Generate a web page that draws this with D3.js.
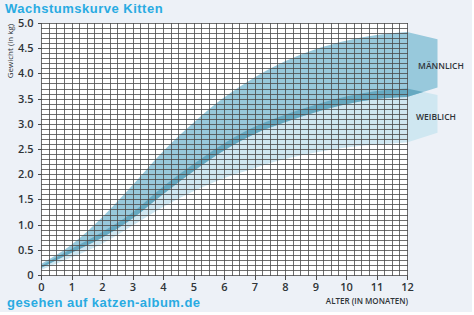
<!DOCTYPE html>
<html><head><meta charset="utf-8">
<script src="https://cdn.jsdelivr.net/npm/d3@7"></script>
<style>
html,body{margin:0;padding:0;background:#ffffff;}
svg{display:block;}
</style></head>
<body>
<script>
// ---- data ----
const months = [0,1,2,3,4,5,6,7,8,9,10,11,12];
const maleHigh   = [0.22,0.60,1.14,1.78,2.45,3.02,3.52,3.92,4.24,4.48,4.65,4.76,4.82];
const maleLow    = [0.14,0.44,0.74,1.12,1.60,2.06,2.47,2.80,3.03,3.23,3.39,3.49,3.53];
const femaleHigh = [0.18,0.52,0.85,1.24,1.75,2.20,2.61,2.94,3.18,3.38,3.54,3.65,3.70];
const femaleLow  = [0.10,0.35,0.62,0.98,1.35,1.66,1.92,2.12,2.30,2.43,2.53,2.59,2.63];
const legendMonths = [12,13];
const maleLegendHigh = [4.82,4.68];
const maleLegendLow = [3.53,3.72];
const femaleLegendHigh = [3.70,3.57];
const femaleLegendLow = [2.63,2.82];
const xTicks = [0,1,2,3,4,5,6,7,8,9,10,11,12];
const yTicks = [0,0.5,1,1.5,2,2.5,3,3.5,4,4.5,5];
const yTickLabels = ["0","0.5","1.0","1.5","2.0","2.5","3.0","3.5","4.0","4.5","5.0"];
const title = "Wachstumskurve Kitten";
const source = "gesehen auf katzen-album.de";
const xTitle = "ALTER (IN MONATEN)";
const yTitle = "Gewicht (in kg)";
const maleLabel = "MÄNNLICH";
const femaleLabel = "WEIBLICH";

// ---- layout ----
const W = 474, H = 315;
const svg = d3.select("body").append("svg").attr("width", W).attr("height", H);
svg.append("rect").attr("x",0).attr("y",0).attr("width",472).attr("height",312).attr("fill","#edf1f7");

const x = d3.scaleLinear().domain([0,12]).range([41,407]);
const y = d3.scaleLinear().domain([0,5]).range([275,23]);

svg.append("rect").attr("x",x(0)).attr("y",y(5)).attr("width",x(12)-x(0)).attr("height",y(0)-y(5)).attr("fill","#ffffff");

const maleCol = "#98c9dc", femaleCol = "#cfe7f1", bothCol = "#66a9c1";
const defs = svg.append("defs");
const bands = svg.append("g");

function areaGen(curve){
  return d3.area().x(d=>x(d.m)).y0(d=>y(d.lo)).y1(d=>y(d.hi)).curve(curve);
}
function pts(xs, lo, hi){ return xs.map((m,i)=>({m, lo:lo[i], hi:hi[i]})); }

function pair(xs, fLo, fHi, mLo, mHi, curve, id){
  const fPts = pts(xs, fLo, fHi), mPts = pts(xs, mLo, mHi);
  bands.append("path").datum(fPts).attr("d", areaGen(curve)).attr("fill", femaleCol);
  bands.append("path").datum(mPts).attr("d", areaGen(curve)).attr("fill", maleCol);
  defs.append("clipPath").attr("id", id).append("path").datum(fPts).attr("d", areaGen(curve));
  bands.append("path").datum(mPts).attr("d", areaGen(curve)).attr("fill", bothCol)
    .attr("clip-path", `url(#${id})`);
}
pair(months, femaleLow, femaleHigh, maleLow, maleHigh, d3.curveMonotoneX, "clipMain");
pair(legendMonths, femaleLegendLow, femaleLegendHigh, maleLegendLow, maleLegendHigh, d3.curveLinear, "clipLegend");

// grid
const grid = svg.append("g").attr("stroke","#4a4a4a").attr("stroke-opacity",0.8).attr("stroke-width",1)
  .attr("shape-rendering","crispEdges");
const vLines = d3.range(0, 48.5, 1).map(i=>i/4);
const hLines = d3.range(0, 50.5, 1).map(i=>i/10);
grid.selectAll("line.v").data(vLines).join("line").attr("class","v")
  .attr("x1",d=>Math.round(x(d))+0.5).attr("x2",d=>Math.round(x(d))+0.5)
  .attr("y1",Math.round(y(5))).attr("y2",Math.round(y(0))+1);
grid.selectAll("line.h").data(hLines).join("line").attr("class","h")
  .attr("y1",d=>Math.round(y(d))+0.5).attr("y2",d=>Math.round(y(d))+0.5)
  .attr("x1",Math.round(x(0))).attr("x2",Math.round(x(12))+1);

// axes
const font = "'Open Sans', 'Liberation Sans', sans-serif";
const xAxis = svg.append("g").attr("transform",`translate(0,${Math.round(y(0))+0.5})`)
  .call(d3.axisBottom(x).tickValues(xTicks).tickFormat(d3.format("d")).tickSize(4).tickPadding(4));
const yAxis = svg.append("g").attr("transform",`translate(${Math.round(x(0))+0.5},0)`)
  .call(d3.axisLeft(y).tickValues(yTicks).tickFormat((d,i)=>yTickLabels[i]).tickSize(4).tickPadding(4));
[xAxis,yAxis].forEach(a=>{
  a.select(".domain").remove();
  a.selectAll(".tick line").attr("stroke","#4a4a4a").attr("shape-rendering","crispEdges");
  a.selectAll(".tick text").attr("fill","#2f3438").style("font-family",font)
    .style("font-size","11px").style("font-weight","600");
});

// texts
svg.append("text").attr("x",5).attr("y",13).text(title)
  .attr("fill","#29abe2").style("font-family","'Liberation Sans', Arial, sans-serif")
  .style("font-size","13px").style("font-weight","bold").style("letter-spacing","0.5px");
svg.append("text").attr("x",7).attr("y",307).text(source)
  .attr("fill","#29abe2").style("font-family","'Liberation Sans', Arial, sans-serif")
  .style("font-size","13px").style("font-weight","bold").style("letter-spacing","0.45px");
svg.append("text").attr("x",408).attr("y",304).attr("text-anchor","end").text(xTitle)
  .attr("fill","#2f3438").style("font-family",font).style("font-size","8px").style("font-weight","600");
svg.append("text").attr("transform","translate(13,51) rotate(-90)").attr("text-anchor","middle").text(yTitle)
  .attr("fill","#2f3438").style("font-family",font).style("font-size","8px").style("font-weight","400");
svg.append("text").attr("x",441).attr("y",69).attr("text-anchor","middle").text(maleLabel)
  .attr("fill","#2f3438").style("font-family",font).style("font-size","8.5px").style("font-weight","600");
svg.append("text").attr("x",436).attr("y",120).attr("text-anchor","middle").text(femaleLabel)
  .attr("fill","#2f3438").style("font-family",font).style("font-size","8.5px").style("font-weight","600");
</script>
</body></html>
